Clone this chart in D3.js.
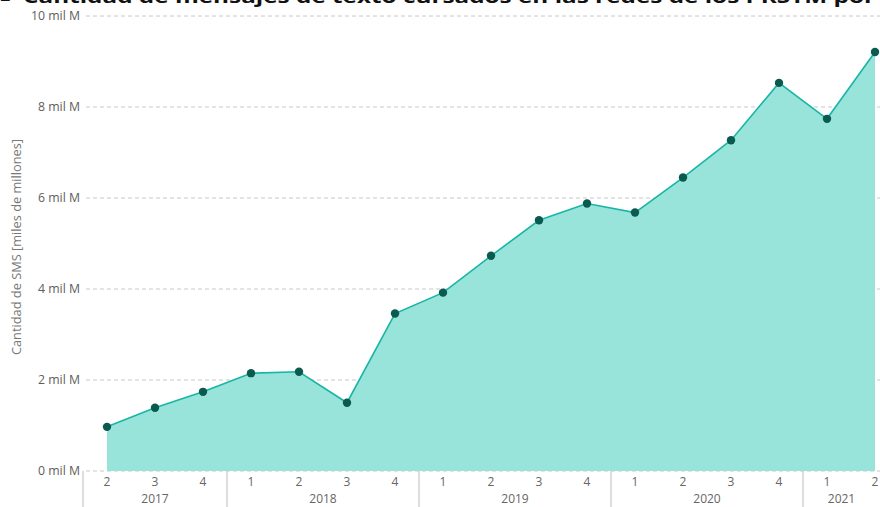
<!DOCTYPE html>
<html>
<head>
<meta charset="utf-8">
<script src="https://cdn.jsdelivr.net/npm/d3@7"></script>
<style>
  html, body { margin: 0; padding: 0; background: #fff; }
  svg { display: block; }
  text { font-family: "Open Sans", "Noto Sans", sans-serif; }
</style>
</head>
<body>
<svg id="chart" width="880" height="507"></svg>
<script>
// ---- Data ----
const years    = ["2017", "2017", "2017", "2018", "2018", "2018", "2018", "2019", "2019", "2019", "2019", "2020", "2020", "2020", "2020", "2021", "2021"];
const quarters = ["2", "3", "4", "1", "2", "3", "4", "1", "2", "3", "4", "1", "2", "3", "4", "1", "2"];
const smsValues = [0.97, 1.39, 1.74, 2.15, 2.18, 1.50, 3.46, 3.92, 4.73, 5.51, 5.88, 5.68, 6.45, 7.27, 8.53, 7.74, 9.21];
const yTicks = [0, 2, 4, 6, 8, 10];
const yTickLabels = ["0 mil M", "2 mil M", "4 mil M", "6 mil M", "8 mil M", "10 mil M"];
const titleText = "Cantidad de mensajes de texto cursados en las redes de los PRSTM por";
const yAxisTitle = "Cantidad de SMS [miles de millones]";

// ---- Layout ----
const svg = d3.select("#chart");
const plotLeft = 83, plotTop = 16, plotBottom = 471;
const step = 48;
const keys = years.map((y, i) => y + "-" + quarters[i]);

const x = d3.scaleBand().domain(keys).range([plotLeft, plotLeft + step * keys.length]).padding(0);
const y = d3.scaleLinear().domain([0, 10]).range([plotBottom, plotTop]);
const cx = k => x(k) + x.bandwidth() / 2;

// Title (cut off at top)
svg.append("text")
  .attr("x", 0).attr("y", 3)
  .attr("font-size", 18).attr("font-weight", 700).attr("fill", "#111")
  .text("≡");
svg.append("text")
  .attr("x", 23).attr("y", 3)
  .attr("font-size", 18).attr("font-weight", 700).attr("fill", "#111")
  .attr("textLength", 852).attr("lengthAdjust", "spacingAndGlyphs")
  .text(titleText);

// Gridlines
const grid = svg.append("g");
grid.selectAll("line").data(yTicks).join("line")
  .attr("x1", 86).attr("x2", 880)
  .attr("y1", d => y(d)).attr("y2", d => y(d))
  .attr("stroke", "#c8c8c8").attr("stroke-width", 1)
  .attr("stroke-dasharray", "4,3");

// Y axis labels
const yAxis = d3.axisLeft(y).tickValues(yTicks).tickFormat((d, i) => yTickLabels[i]).tickSize(0).tickPadding(0);
const yg = svg.append("g").attr("transform", "translate(80,0)").call(yAxis);
yg.select(".domain").remove();
yg.selectAll("text").attr("font-size", 12.3).attr("fill", "#605e5c").attr("font-family", "'Open Sans', sans-serif");

// Y axis title
svg.append("text")
  .attr("transform", "translate(21,247) rotate(-90)")
  .attr("text-anchor", "middle")
  .attr("font-size", 12.8).attr("fill", "#777")
  .text(yAxisTitle);

// Area + line
const pts = keys.map((k, i) => ({ k, v: smsValues[i] }));
svg.append("path").datum(pts)
  .attr("fill", "#98e3da")
  .attr("d", d3.area().x(d => cx(d.k)).y0(y(0)).y1(d => y(d.v)));
svg.append("path").datum(pts)
  .attr("fill", "none").attr("stroke", "#1ab5a6").attr("stroke-width", 1.6)
  .attr("d", d3.line().x(d => cx(d.k)).y(d => y(d.v)));
svg.append("g").selectAll("circle").data(pts).join("circle")
  .attr("cx", d => cx(d.k)).attr("cy", d => y(d.v)).attr("r", 4.2)
  .attr("fill", "#0b5a4f");

// X axis: quarters
const xAxis = d3.axisBottom(x).tickFormat((d, i) => quarters[i]).tickSize(0).tickPadding(6);
const xg = svg.append("g").attr("transform", `translate(0,${plotBottom})`).call(xAxis);
xg.select(".domain").remove();
xg.selectAll("text").attr("font-size", 12).attr("fill", "#666").attr("font-family", "'Open Sans', sans-serif");

// Year groups
const yearGroups = d3.groups(keys, k => k.split("-")[0]).map(([yr, ks]) => ({
  yr, start: x(ks[0]), end: x(ks[ks.length - 1]) + x.bandwidth()
}));
svg.append("g").selectAll("line").data(yearGroups).join("line")
  .attr("x1", d => d.start).attr("x2", d => d.start)
  .attr("y1", plotBottom).attr("y2", 507)
  .attr("stroke", "#c8c8c8").attr("stroke-width", 1.2);
svg.append("g").selectAll("text").data(yearGroups).join("text")
  .attr("x", d => (d.start + Math.min(d.end, 880)) / 2)
  .attr("y", 503)
  .attr("text-anchor", "middle")
  .attr("font-size", 12).attr("fill", "#666")
  .text(d => d.yr);
</script>
</body>
</html>
